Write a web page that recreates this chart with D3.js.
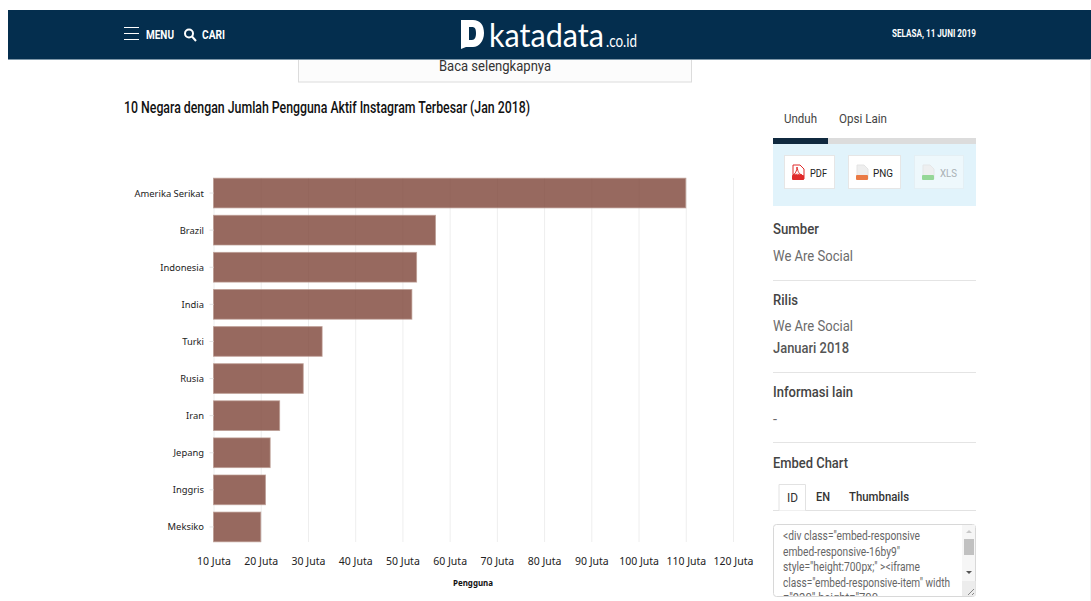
<!DOCTYPE html>
<html>
<head>
<meta charset="utf-8">
<script src="https://cdn.jsdelivr.net/npm/d3@7/dist/d3.min.js"></script>
<style>
html,body{margin:0;padding:0;background:#fff;overflow:hidden}
svg{display:block}
text{font-family:Roboto,sans-serif}
</style>
</head>
<body>
<svg id="page" width="1091" height="601"></svg>
<script>
// Instagram users per country, in millions
const countries = ["Amerika Serikat","Brazil","Indonesia","India","Turki","Rusia","Iran","Jepang","Inggris","Meksiko"];
const users = [110,57,53,52,33,29,24,22,21,20];
const tickValues = [10,20,30,40,50,60,70,80,90,100,110,120];

const embedLines = ['<div class="embed-responsive','embed-responsive-16by9"','style="height:700px;" ><iframe','class="embed-responsive-item" width','="930" height="700'];

const svg = d3.select("#page");
const txt = (s,x,y,size,fill,opt={}) => {
  const t = svg.append("text").attr("x",x).attr("y",y).attr("font-size",size).attr("fill",fill).text(s);
  if(opt.w) t.attr("textLength",opt.w).attr("lengthAdjust","spacingAndGlyphs");
  if(opt.weight) t.attr("font-weight",opt.weight);
  if(opt.anchor) t.attr("text-anchor",opt.anchor);
  if(opt.family) t.style("font-family",opt.family);
  return t;
};
const rect = (x,y,w,h,fill,stroke) => svg.append("rect").attr("x",x).attr("y",y).attr("width",w).attr("height",h).attr("fill",fill).attr("stroke",stroke||"none");
const hline = (x1,x2,y,c) => svg.append("line").attr("x1",x1).attr("x2",x2).attr("y1",y).attr("y2",y).attr("stroke",c);

// "Baca selengkapnya" box, partly under the header
rect(298.5,50,393,32,"#fcfcfc","#dcdcdc");
txt("Baca selengkapnya",495,71,14,"#333",{anchor:"middle",w:112});

// Header bar
rect(8,10,1083,49,"#042e4e");
hline(8,1091,59.5,"#7f97a8");
[27.5,33.5,39.5].forEach(y=>hline(124,139,y,"#fff"));
txt("MENU",146,39,12.5,"#fff",{w:28,weight:700});
svg.append("circle").attr("cx",189).attr("cy",33.5).attr("r",4).attr("fill","none").attr("stroke","#fff").attr("stroke-width",2);
svg.append("line").attr("x1",192).attr("y1",36.5).attr("x2",196).attr("y2",41).attr("stroke","#fff").attr("stroke-width",2);
txt("CARI",202,39,12.5,"#fff",{w:23,weight:700});
// Logo mark and wordmark; the wordmark is squeezed horizontally to its slot
svg.append("path").attr("fill","#fff").attr("fill-rule","evenodd")
  .attr("d","M461 20h12c7 0 11 5 11 13s-5 14-11 14h-7l-5 2zM469 27v13h3c3 0 4-3 4-7s-1-6-4-6z");
const wordmark = txt("katadata",0,0,33,"#fff",{family:"Lato,sans-serif"});
wordmark.attr("transform",`translate(489,47) scale(${115/wordmark.node().getComputedTextLength()},1)`);
txt(".co.id",606,47,18,"#fff",{w:31,family:"Lato,sans-serif"});
txt("SELASA, 11 JUNI 2019",892,37,11.5,"#fff",{w:84,weight:700});

// Chart title
txt("10 Negara dengan Jumlah Pengguna Aktif Instagram Terbesar (Jan 2018)",124,113,16,"#111",{w:406,weight:500});

// Chart
const x = d3.scaleLinear().domain([10,120]).range([213.5,733]);
const y = d3.scaleBand().domain(countries).range([174.5,545.5]).paddingInner(0.2).paddingOuter(0.1);
const axisFont = "'Noto Sans',sans-serif";

const gridG = svg.append("g").attr("transform","translate(0,178)");
gridG.call(d3.axisBottom(x).tickValues(tickValues).tickSize(364).tickFormat(""))
  .call(g=>g.select(".domain").remove())
  .call(g=>g.selectAll("line").attr("stroke","#eeeeee"));

svg.append("g").selectAll("rect").data(users).join("rect")
  .attr("x",x(10)).attr("y",(d,i)=>y(countries[i]))
  .attr("width",d=>x(d)-x(10)).attr("height",y.bandwidth())
  .attr("fill","#7d4337").attr("fill-opacity",.8)
  .attr("stroke","#b9988f").attr("stroke-opacity",.7).attr("stroke-width",1);

const yAxis = svg.append("g").attr("transform",`translate(${x(10)},0)`)
  .call(d3.axisLeft(y).tickSize(4).tickPadding(5.5));
yAxis.select(".domain").remove();
yAxis.selectAll("line").attr("stroke","#e4e4e4");
yAxis.selectAll("text").attr("font-size",9.4).attr("fill","#222").attr("dy","0.37em").style("font-family",axisFont);

const xAxis = svg.append("g").attr("transform","translate(0,542)")
  .call(d3.axisBottom(x).tickValues(tickValues).tickSize(0).tickPadding(15.5).tickFormat(d=>d+" Juta"));
xAxis.select(".domain").remove();
xAxis.selectAll("text").attr("font-size",10.5).attr("fill","#222").style("font-family",axisFont);

txt("Pengguna",473,586,9,"#111",{anchor:"middle",weight:700,family:axisFont,w:40});

// Sidebar tabs
txt("Unduh",784,123,13,"#444",{w:33});
txt("Opsi Lain",839,123,13,"#444",{w:48});
rect(773,138,203,6,"#dcdcdc");
rect(773,138,55,6,"#10293f");
rect(773,144,203,62,"#e1f3fb");

// Download buttons
const fileIcon=(cx,c,op,pageStroke)=>{
  const g=svg.append("g").attr("opacity",op);
  g.append("path").attr("d",`M${cx-5} 165h7l4 4v10h-11z`).attr("fill",pageStroke==="#e02b2b"?"#fff":"#eee").attr("stroke",pageStroke);
  g.append("rect").attr("x",cx-6).attr("y",175).attr("width",12).attr("height",5).attr("rx",1).attr("fill",c);
};
rect(784.5,155.5,50,33,"#fff","#e6e6e6");
fileIcon(798,"#e02b2b",1,"#e02b2b");
svg.append("path").attr("d","M797 167c1 5 2 7 5 8M797 167c0 4-2 7-4 8M793 175c3-1 6-1 9 0").attr("fill","none").attr("stroke","#e02b2b");
txt("PDF",810,177,11.5,"#222",{w:17});
rect(848.5,155.5,52,33,"#fff","#e6e6e6");
fileIcon(862,"#ea7a45",1,"#e4e4e4");
txt("PNG",873,177,11.5,"#222",{w:20});
rect(914.5,155.5,49,33,"#eef8fc","#e4eff4");
fileIcon(928,"#7fd07f",.8,"#e4e4e4");
txt("XLS",940,177,11.5,"#a9b0b4",{w:17});

// Sidebar metadata
const heading=(s,yy,w)=>txt(s,773,yy,14.5,"#444",{w,weight:500});
const sub=(s,yy,w)=>txt(s,773,yy,14,"#6b6b6b",{w});
heading("Sumber",234,46);
sub("We Are Social",261,80);
hline(773,976,280.5,"#e4e4e4");
heading("Rilis",305,25);
sub("We Are Social",331,80);
txt("Januari 2018",773,353,14,"#555",{w:76,weight:500});
hline(773,976,372.5,"#e4e4e4");
heading("Informasi lain",397,80);
sub("-",424,4);
hline(773,976,442.5,"#e4e4e4");
heading("Embed Chart",468,75);

// Embed tabs
hline(773,976,510.5,"#e2e2e2");
svg.append("path").attr("d","M779 510.5V484.5H805.5V510.5").attr("fill","#fff").attr("stroke","#e2e2e2");
txt("ID",787,502,12.5,"#333",{w:11});
txt("EN",816,501,12.5,"#333",{w:14,weight:500});
txt("Thumbnails",849,501,12.5,"#333",{w:60,weight:500});

// Embed code box; the last line is cut by the box's lower edge
const defs=svg.append("defs");
defs.append("clipPath").attr("id","embedClip").append("rect").attr("x",774).attr("y",525).attr("width",188).attr("height",71);
rect(773.5,524.5,202,72,"#fff","#d8d8d8").attr("rx",3);
const code=svg.append("g").attr("clip-path","url(#embedClip)");
const codeY=[540,556,571,587,602];
const codeW=[137,117,137,167,95];
embedLines.forEach((s,i)=>{
  code.append("text").attr("x",783).attr("y",codeY[i]).attr("font-size",12).attr("fill","#666")
    .attr("textLength",codeW[i]).attr("lengthAdjust","spacingAndGlyphs").text(s);
});
// Scrollbar and resize corner
rect(962,525,13,71,"#f6f6f6");
rect(964,539,10,16,"#c1c1c1");
rect(962,581,13.5,15,"#ececec");
svg.append("path").attr("d","M966 533l3-3 3 3z").attr("fill","#c8c8c8");
svg.append("path").attr("d","M966 571l3 3 3-3z").attr("fill","#555");
svg.append("path").attr("d","M968 595l6-6M972 595l2-2").attr("stroke","#888").attr("fill","none");

// Faint right page edge
svg.append("line").attr("x1",1090.5).attr("x2",1090.5).attr("y1",59).attr("y2",601).attr("stroke","#f2f2f2");
</script>
</body>
</html>
